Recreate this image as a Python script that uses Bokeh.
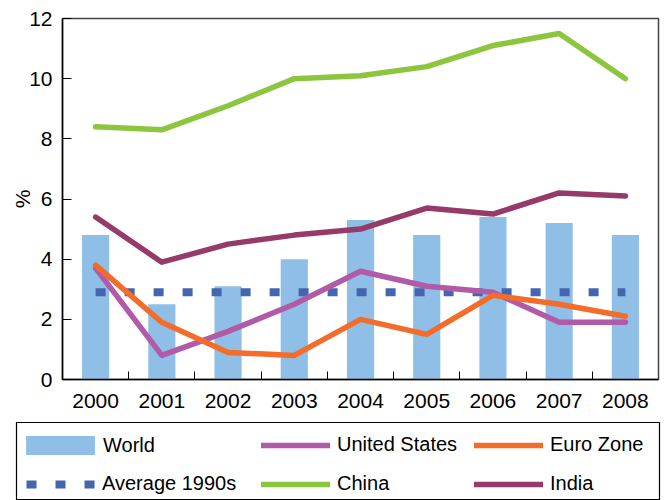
from bokeh.plotting import figure
from bokeh.layouts import column
from bokeh.models import (ColumnDataSource, FixedTicker, Legend, LegendItem,
                          Range1d)
from bokeh.embed import file_html
from bokeh.resources import INLINE

# GDP growth, %
years = ["2000", "2001", "2002", "2003", "2004", "2005", "2006", "2007", "2008"]
world = [4.8, 2.5, 3.1, 4.0, 5.3, 4.8, 5.4, 5.2, 4.8]
united_states = [3.7, 0.8, 1.6, 2.5, 3.6, 3.1, 2.9, 1.9, 1.9]
euro_zone = [3.8, 1.9, 0.9, 0.8, 2.0, 1.5, 2.8, 2.5, 2.1]
china = [8.4, 8.3, 9.1, 10.0, 10.1, 10.4, 11.1, 11.5, 10.0]
india = [5.4, 3.9, 4.5, 4.8, 5.0, 5.7, 5.5, 6.2, 6.1]
average_1990s = [2.9] * len(years)
y_ticks = [0, 2, 4, 6, 8, 10, 12]

FONT = "Liberation Sans"
BAR = dict(fill_color="#8fbfe6", line_color=None)
AVG = dict(line_color="#4466b0", line_width=8, line_dash="10 19")
LINE = dict(line_width=5.5, line_cap="round", line_join="round")
COLORS = {"us": "#b05aa8", "euro": "#f36c2a", "china": "#8cc63f",
          "india": "#963a6a"}

xs = list(range(len(years)))
src = ColumnDataSource(dict(x=xs, world=world, us=united_states, euro=euro_zone,
                            china=china, india=india, avg=average_1990s))

p = figure(width=667, height=410, output_backend="svg", toolbar_location=None,
           x_range=Range1d(-0.5, len(years) - 0.5), y_range=Range1d(0, 12),
           min_border_left=62, min_border_right=9, min_border_top=18,
           min_border_bottom=31)
p.frame_align = False
p.background_fill_color = "white"
p.border_fill_color = "white"
p.outline_line_color = "#444444"
p.outline_line_width = 1.5
p.grid.visible = False

p.vbar(x="x", top="world", width=0.41, source=src, **BAR)
p.line(x="x", y="avg", source=src, **AVG)
for key in ("us", "euro", "china", "india"):
    p.line(x="x", y=key, source=src, line_color=COLORS[key], **LINE)

# x axis: year labels at centres, small inward ticks between years
p.xaxis.ticker = FixedTicker(ticks=xs, minor_ticks=[i + 0.5 for i in xs[:-1]])
p.xaxis.major_label_overrides = {i: y for i, y in enumerate(years)}
p.xaxis.major_tick_in = 0
p.xaxis.major_tick_out = 0
p.xaxis.minor_tick_in = 8
p.xaxis.minor_tick_out = 0
p.xaxis.major_label_standoff = 14

p.yaxis.ticker = FixedTicker(ticks=y_ticks)
p.yaxis.major_tick_in = 9
p.yaxis.major_tick_out = 0
p.yaxis.major_label_standoff = 10
p.yaxis.axis_label = "%"
p.yaxis.axis_label_standoff = -8
p.yaxis.axis_label_text_font_style = "normal"

for ax in (p.xaxis, p.yaxis):
    ax.axis_line_color = "black"
    ax.axis_line_width = 1.5
    ax.major_tick_line_color = "black"
    ax.major_label_text_font = FONT
    ax.major_label_text_font_size = "21px"
    ax.major_label_text_color = "black"
    ax.axis_label_text_font = FONT
    ax.axis_label_text_font_size = "21px"
    ax.axis_label_text_color = "black"
p.xaxis.minor_tick_line_color = "black"
p.yaxis.minor_tick_line_color = None

# legend box below the chart; its frame outline is the box border
lg = figure(width=667, height=90, output_backend="svg", toolbar_location=None,
            x_range=Range1d(0, 1), y_range=Range1d(0, 1),
            x_axis_location=None, y_axis_location=None,
            min_border_left=16, min_border_right=8, min_border_top=12,
            min_border_bottom=1)
lg.frame_align = False
lg.grid.visible = False
lg.outline_line_color = "black"
lg.outline_line_width = 1.2

# key glyphs: same styles as the chart, fed a single empty (NaN) point
blank = ColumnDataSource(dict(x=[float("nan")], y=[float("nan")]))
r_world = lg.vbar(x="x", top="y", width=1, source=blank, **BAR)
r_avg = lg.line(x="x", y="y", source=blank, **AVG)
r = {k: lg.line(x="x", y="y", source=blank, line_color=c, **LINE)
     for k, c in COLORS.items()}

KEY_STYLE = dict(orientation="vertical", label_height=20, padding=0, margin=0,
                 label_text_font=FONT, label_text_font_size="20px",
                 label_text_color="black", label_text_baseline="middle",
                 border_line_color=None, background_fill_alpha=0)

# (x offset, y offset, glyph size, label standoff, entries)
key_blocks = [
    (1, 42, (86, 24), -1, [("World", r_world)]),
    (10, 4, (69, 20), 7, [("Average 1990s", r_avg)]),
    (245, 4, (69, 20), 7, [("United States", r["us"]), ("China", r["china"])]),
    (458, 4, (69, 20), 7, [("Euro Zone", r["euro"]), ("India", r["india"])]),
]
for x_off, y_off, (gw, gh), standoff, entries in key_blocks:
    lg.add_layout(Legend(
        items=[LegendItem(label=lab, renderers=[rend]) for lab, rend in entries],
        location=(x_off, y_off), glyph_width=gw, glyph_height=gh,
        label_standoff=standoff, spacing=16, **KEY_STYLE), "center")

layout = column(p, lg, spacing=0)
open("out.html", "w").write(file_html(layout, INLINE))
